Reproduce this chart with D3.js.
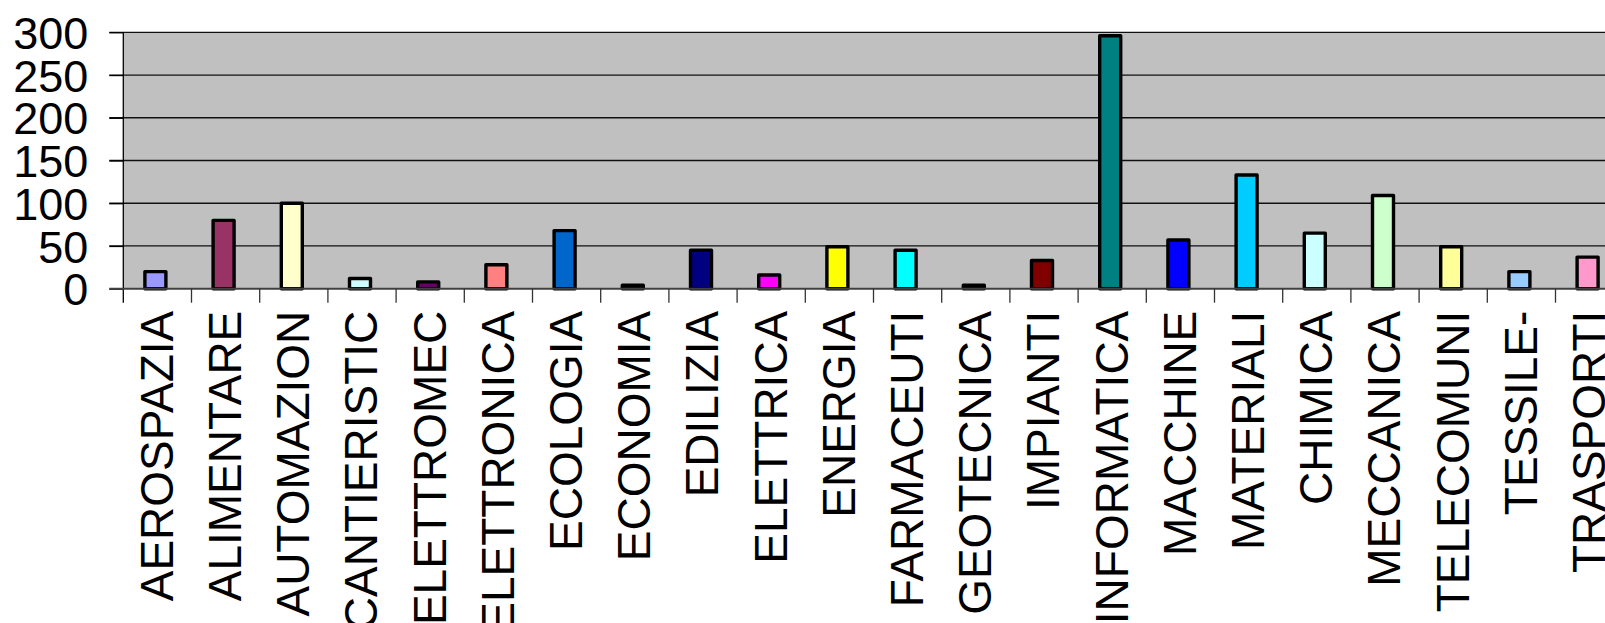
<!DOCTYPE html>
<html>
<head>
<meta charset="utf-8">
<script src="https://cdn.jsdelivr.net/npm/d3@7"></script>
<style>
  html, body { margin: 0; padding: 0; background: #fff; }
  svg { display: block; }
  text { font-family: "Liberation Sans", Arial, sans-serif; fill: #000; }
</style>
</head>
<body>
<svg id="chart" width="1605" height="623"></svg>
<script>
const categories = ["AEROSPAZIA","ALIMENTARE","AUTOMAZION","CANTIERISTIC","ELETTROMEC","ELETTRONICA","ECOLOGIA","ECONOMIA","EDILIZIA","ELETTRICA","ENERGIA","FARMACEUTI","GEOTECNICA","IMPIANTI","INFORMATICA","MACCHINE","MATERIALI","CHIMICA","MECCANICA","TELECOMUNI","TESSILE-","TRASPORTI"];
const values = [20, 80, 100, 12, 8, 28, 68, 4, 45, 16, 49, 45, 4, 33, 296, 57, 133, 65, 109, 49, 20, 37];
const colors = ["#9999FF","#993366","#FFFFCC","#CCFFFF","#660066","#FF8080","#0066CC","#CCCCFF","#000080","#FF00FF","#FFFF00","#00FFFF","#800080","#800000","#008080","#0000FF","#00CCFF","#CCFFFF","#CCFFCC","#FFFF99","#99CCFF","#FF99CC"];
const yTicks = [0, 50, 100, 150, 200, 250, 300];

(function () {
const svg = d3.select("#chart");
const pLeft = 123.3, pTop = 32.3, pBottom = 288.7, step = 68.2;
const pRight = pLeft + step * categories.length;

const x = d3.scaleBand().domain(categories).range([pLeft, pRight]).padding(0);
const y = d3.scaleLinear().domain([0, 300]).range([pBottom, pTop]);

// plot area
svg.append("rect").attr("x", pLeft).attr("y", pTop)
  .attr("width", pRight - pLeft).attr("height", pBottom - pTop)
  .attr("fill", "#C0C0C0");

// gridlines
svg.append("g").selectAll("line").data(yTicks.filter(d => d > 0)).join("line")
  .attr("x1", pLeft - 14).attr("x2", pRight)
  .attr("y1", d => y(d)).attr("y2", d => y(d))
  .attr("stroke", "#111").attr("stroke-width", 1.3);

// y axis
const yAxis = svg.append("g").attr("transform", `translate(${pLeft},0)`)
  .call(d3.axisLeft(y).tickValues(yTicks).tickSize(14).tickPadding(21).tickFormat(d3.format("d")));
yAxis.select(".domain").attr("stroke", "#000").attr("stroke-width", 1.3)
  .attr("d", `M0,${pTop}V${pBottom + 14}`);
yAxis.selectAll(".tick line").attr("stroke", "#000").attr("stroke-width", 1.3);
yAxis.selectAll(".tick text").attr("font-size", 45).attr("font-family", "Liberation Sans, Arial, sans-serif")
  .attr("fill", "#000").attr("dy", "0.358em");

// bars
const bw = 21;
svg.append("g").selectAll("rect").data(values).join("rect")
  .attr("x", (d, i) => x(categories[i]) + x.bandwidth() / 2 - 2 - bw / 2)
  .attr("y", d => y(d))
  .attr("width", bw)
  .attr("height", d => pBottom - y(d))
  .attr("fill", (d, i) => colors[i])
  .attr("stroke", "#000").attr("stroke-width", 3.4)
  .attr("stroke-linejoin", "round");

// x axis baseline
svg.append("line").attr("x1", pLeft - 14).attr("x2", pRight)
  .attr("y1", pBottom).attr("y2", pBottom)
  .attr("stroke", "#404040").attr("stroke-width", 2);

// x tick marks at band boundaries
svg.append("g").selectAll("line").data(categories.slice(1)).join("line")
  .attr("x1", d => x(d)).attr("x2", d => x(d))
  .attr("y1", pBottom).attr("y2", pBottom + 14)
  .attr("stroke", "#333").attr("stroke-width", 1.3);

// x labels via axis
const xAxis = svg.append("g").attr("transform", `translate(0,${pBottom})`)
  .call(d3.axisBottom(x).tickSize(0).tickPadding(0));
xAxis.select(".domain").remove();
xAxis.selectAll(".tick text")
  .attr("font-size", 46).attr("font-family", "Liberation Sans, Arial, sans-serif").attr("fill", "#000")
  .attr("text-anchor", "end")
  .attr("transform", "translate(-1,22) rotate(-90)")
  .attr("x", 0).attr("y", 0).attr("dy", "0.358em");
})();
</script>
</body>
</html>
